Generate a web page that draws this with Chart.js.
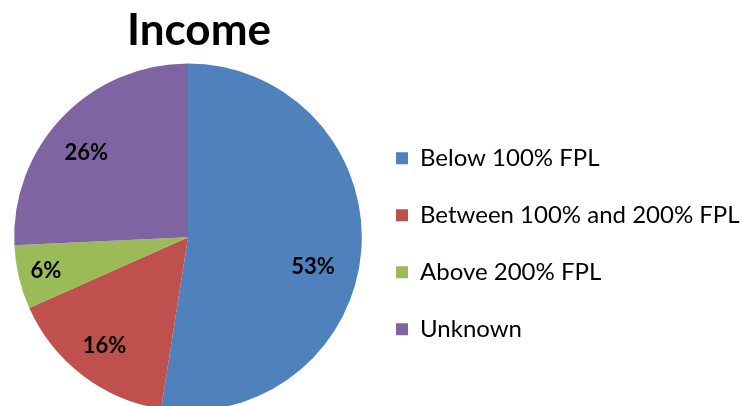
<!DOCTYPE html>
<html>
<head>
<meta charset="utf-8">
<script src="https://cdn.jsdelivr.net/npm/chart.js@4/dist/chart.umd.min.js"></script>
<style>
  html, body { margin: 0; padding: 0; background: #fff; overflow: hidden; }
  #box { width: 751px; height: 406px; overflow: hidden; }
</style>
</head>
<body>
<div id="box"><canvas id="chart" width="751" height="411"></canvas></div>
<script>
// donnees
const categories = ['Below 100% FPL', 'Between 100% and 200% FPL', 'Above 200% FPL', 'Unknown']
const values = [53, 16, 6, 26]
const colors = ['#4F81BD', '#C0504D', '#9BBB59', '#8064A2']

// position des etiquettes (fraction du rayon, decalage en degres)
const labelRadius = [0.74, 0.79, 0.84, 0.76]
const labelShift = [9, 0, 0, -4]

const fontFamily = 'Lato, "Open Sans", sans-serif'

// petit plugin pour ecrire les pourcentages dans les parts
const pieLabels = {
  id: 'pieLabels',
  afterDatasetsDraw(chart) {
    const ctx = chart.ctx
    const meta = chart.getDatasetMeta(0)
    ctx.save()
    ctx.font = 'bold 22px ' + fontFamily
    ctx.fillStyle = '#000'
    ctx.textAlign = 'center'
    ctx.textBaseline = 'middle'
    meta.data.forEach((arc, i) => {
      const p = arc.getProps(['x', 'y', 'startAngle', 'endAngle', 'outerRadius'], true)
      const a = (p.startAngle + p.endAngle) / 2 + labelShift[i] * Math.PI / 180
      const r = p.outerRadius * labelRadius[i]
      ctx.fillText(values[i] + '%', p.x + Math.cos(a) * r, p.y + Math.sin(a) * r)
    })
    ctx.restore()
  }
}

new Chart(document.getElementById('chart'), {
  type: 'pie',
  data: {
    labels: categories,
    datasets: [{
      data: values,
      backgroundColor: colors,
      borderWidth: 0
    }]
  },
  options: {
    responsive: false,
    animation: false,
    // la legende fait au plus la moitie de la largeur dispo, d'ou ces marges
    layout: { padding: { left: 4, right: 11, top: 0, bottom: 0 } },
    plugins: {
      title: {
        display: true,
        text: '\u2002Income',
        fullSize: false,
        color: '#000',
        font: { family: fontFamily, size: 44, weight: 'bold', lineHeight: 1.1 },
        padding: { top: 7, bottom: 8 }
      },
      legend: {
        position: 'right',
        fullSize: false,
        // titre vide pour descendre un peu la legende
        title: { display: true, text: ' ', font: { size: 10, lineHeight: 1 }, padding: 6 },
        labels: {
          color: '#000',
          font: { family: fontFamily, size: 24, lineHeight: 1.375 },
          boxWidth: 12,
          boxHeight: 12,
          padding: 24,
          // texte en tableau => la hauteur de ligne sert d'ecart entre les lignes
          generateLabels(chart) {
            const items = Chart.overrides.pie.plugins.legend.labels.generateLabels(chart)
            items.forEach(it => { it.text = [it.text] })
            return items
          }
        }
      },
      tooltip: { enabled: false }
    }
  },
  plugins: [pieLabels]
})
</script>
</body>
</html>
